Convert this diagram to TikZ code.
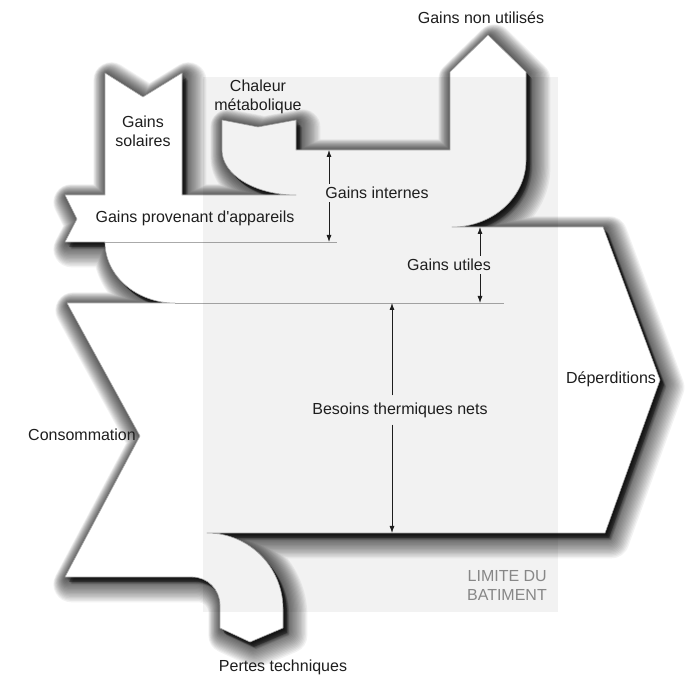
\documentclass[tikz,border=0pt]{standalone}
\usepackage{fontspec}
\setmainfont{Liberation Sans}
\usetikzlibrary{arrows.meta}
\definecolor{ink}{RGB}{30,30,30}
\definecolor{edge}{RGB}{170,170,170}
\definecolor{limite}{RGB}{135,135,135}
\tikzset{
  flowfill/.style={fill=white},
  flowedge/.style={draw=edge, line width=0.6pt, line join=round},
  flowglow/.style={draw=black, fill=black, opacity=0.05, line join=round},
  sepline/.style={draw=edge, line width=0.8pt},
  dimarrow/.style={draw=ink, line width=0.8pt, -{Latex[length=7pt,width=5pt]}},
  lbl/.style={font=\fontsize{16}{19}\selectfont, text=ink, align=center, inner sep=3pt},
  % limite du batiment
  batiment/.style={fill=black, fill opacity=0.05}
}
\newcommand\fluxcontour{(105,606) -- (143,582) -- (182,606) -- (182,484) -- (296,484)
  arc[start angle=270, end angle=180, x radius=74pt, y radius=45pt]
  -- (222,559) -- (258,552) -- (296,559) -- (296,529) -- (450,529) -- (450,607)
  -- (488,644) -- (526,607) -- (526,519)
  arc[start angle=0, end angle=-90, x radius=74pt, y radius=67pt]
  -- (603,452) -- (660,299) -- (605,146) -- (207,146)
  arc[start angle=90, end angle=0, radius=76pt]
  -- (283,51) -- (250,37) -- (220,51) -- (220,74)
  arc[start angle=0, end angle=90, radius=28pt]
  -- (65,102) -- (140,243) -- (67,376) -- (175,376)
  arc[start angle=270, end angle=180, x radius=70pt, y radius=61pt]
  -- (65,437) -- (77,460) -- (65,484) -- (105,484) -- cycle}

\begin{document}
\begin{tikzpicture}[x=1pt, y=1pt]
    \useasboundingbox (0,0) rectangle (697,679);
    \fill[white] (0,0) rectangle (697,679);

    \fill[black, opacity=0.25, shift={(4,-5)}] \fluxcontour;
    \foreach \k in {1,...,18}
      \filldraw[flowglow, line width=2*\k pt, shift={(1+0.3*\k,-1-0.35*\k)}] \fluxcontour;
    \fill[flowfill] \fluxcontour;
    \draw[flowedge] \fluxcontour;
    \draw[sepline] (105,437) -- (337,437);
    \draw[sepline] (175,376) -- (504,376);

    \fill[batiment] (203,67) rectangle (558,602);

    \node[lbl] (nonutil) at (481,661) {Gains non utilisés};
    \node[lbl] (chaleur) at (258,582) {Chaleur\\métabolique};
    \node[lbl] (solaires) at (143,548) {Gains\\solaires};
    \node[lbl] (appareils) at (195,461) {Gains provenant d\textquotesingle appareils};
    \node[lbl] (internes) at (377,486) {Gains internes};
    \node[lbl] (utiles) at (449,414) {Gains utiles};
    \node[lbl] (besoins) at (400,269) {Besoins thermiques nets};
    \node[lbl] (conso) at (82,244) {Consommation};
    \node[lbl] (deperd) at (611,300) {Déperditions};
    \node[lbl, text=limite, align=right, anchor=east] (limite) at (550,93) {LIMITE DU\\BATIMENT};
    \node[lbl] (pertes) at (283,12) {Pertes techniques};

    \coordinate (intHaut) at (329,529);
    \coordinate (intBas) at (329,437);
    \coordinate (utHaut) at (480,452);
    \coordinate (utBas) at (480,376);
    \coordinate (besHaut) at (392,376);
    \coordinate (besBas) at (392,146);
    \draw[dimarrow] (internes.north -| intHaut) -- (intHaut);
    \draw[dimarrow] (internes.south -| intBas) -- (intBas);
    \draw[dimarrow] (utiles.north -| utHaut) -- (utHaut);
    \draw[dimarrow] (utiles.south -| utBas) -- (utBas);
    \draw[dimarrow] ([yshift=4pt]besoins.north -| besHaut) -- (besHaut);
    \draw[dimarrow] ([yshift=-4pt]besoins.south -| besBas) -- (besBas);
\end{tikzpicture}
\end{document}
